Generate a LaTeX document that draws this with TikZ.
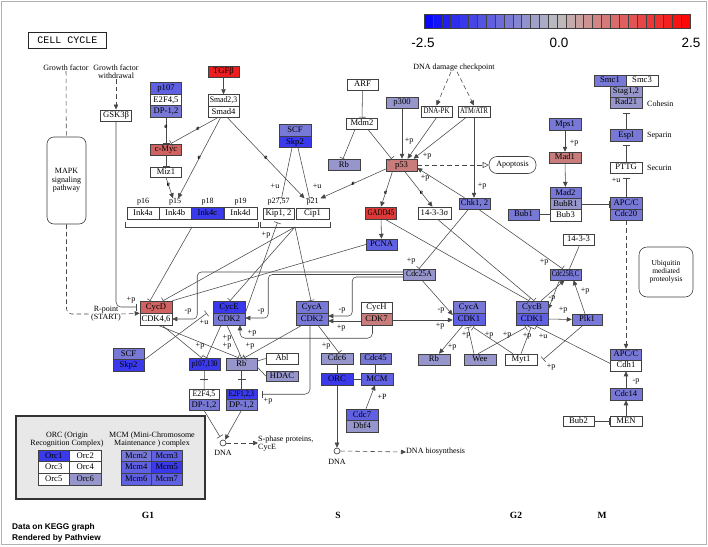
\documentclass[tikz,border=0pt]{standalone}
\usepackage{fontspec}
\setmainfont{Liberation Serif}
\setsansfont{Liberation Sans}
\setmonofont{Liberation Mono}
\usepackage{graphicx}
\usetikzlibrary{arrows.meta,calc}
\definecolor{midgray}{RGB}{190,190,190}
\definecolor{cBa}{RGB}{58,58,236}
\definecolor{cBb}{RGB}{96,96,226}
\definecolor{cBc}{RGB}{120,120,214}
\definecolor{cBd}{RGB}{150,150,204}
\definecolor{cRa}{RGB}{234,30,30}
\definecolor{cRb}{RGB}{222,58,58}
\definecolor{cRc}{RGB}{208,98,98}
\definecolor{cRd}{RGB}{200,124,124}
\newcommand{\sqz}[1]{\scalebox{0.8}[1]{#1}}
\newcommand{\sqy}[1]{\scalebox{0.9}[1]{#1}}
\begin{document}
\begin{tikzpicture}[x=1pt,y=-1pt,
 kb/.style={draw=black!75, line width=0.5pt, minimum width=31pt, minimum height=11.5pt, inner sep=0pt, font=\fontsize{8.6}{9}\selectfont, text height=5.9pt, text depth=1.4pt},
 tx/.style={inner sep=0pt, align=center, font=\fontsize{8}{8}\selectfont},
 sm/.style={inner sep=0pt, font=\fontsize{8}{8}\selectfont},
 el/.style={inner sep=0.3pt, font=\fontsize{7}{7}\selectfont\bfseries},
 ln/.style={draw=black!72, line width=0.55pt},
 act/.style={ln, -{Triangle[length=5pt,width=4.5pt]}},
 inh/.style={ln, -{Bar[width=7pt]}},
 dsh/.style={ln, dash pattern=on 4.5pt off 3pt},
 dact/.style={dsh, -{Triangle[length=5pt,width=4.5pt]}},
 rbox/.style={draw=black!75, line width=0.6pt, inner sep=0pt, align=center, font=\fontsize{8}{8.5}\selectfont},
 phase/.style={inner sep=0pt, font=\bfseries\fontsize{9.5}{10}\selectfont},
 dna/.style={circle, draw=black!80, line width=0.6pt, minimum size=6pt, inner sep=0pt, fill=white}
]
\useasboundingbox (0,0) rectangle (708,546);
\fill[white] (0,0) rectangle (708,546);
\draw[gray!60, line width=1.2pt] (1.5,1.5) rectangle (706.5,544.5);

% colour key
\foreach \i in {0,...,14}{
  \pgfmathtruncatemacro\pp{100*(14.5-\i)/15}
  \path[fill=blue!\pp!midgray, draw=black!75, line width=0.35pt] ({424+\i*266/30},14) rectangle ++({266/30},14);
}
\foreach \i in {15,...,29}{
  \pgfmathtruncatemacro\pp{100*(\i-14.5)/15}
  \path[fill=red!\pp!midgray, draw=black!75, line width=0.35pt] ({424+\i*266/30},14) rectangle ++({266/30},14);
}
\node[font=\sffamily\fontsize{13.5}{14}\selectfont, inner sep=0pt] (cbl) at (423,43) {-2.5};
\node[font=\sffamily\fontsize{13.5}{14}\selectfont, inner sep=0pt] (cbm) at (559,43) {0.0};
\node[font=\sffamily\fontsize{13.5}{14}\selectfont, inner sep=0pt] (cbh) at (691,43) {2.5};

% title and side texts
\node[draw=black!85, line width=1.5pt, minimum width=78pt, minimum height=16pt, inner sep=0pt, font=\ttfamily\fontsize{10}{10}\selectfont] (title) at (67.5,40.5) {CELL CYCLE};
\node[tx] (gf) at (66,68) {Growth factor};
\node[tx] (gfw) at (116,72) {Growth factor\\withdrawal};
\node[rbox, rounded corners=7pt, minimum width=39pt, minimum height=87pt] (mapk) at (66.5,180.5) {MAPK\\signaling\\pathway};
\node[tx, fill=white, inner sep=0.5pt] (rpt) at (106,314) {R-point\\(START)};
\node[kb] (gsk) at (116,115.5) {GSK3β};

% upper left
\node[kb, fill=cBb] (p107) at (166,88.25) {p107};
\node[kb] (e2f45a) at (166,99.75) {E2F4,5};
\node[kb, fill=cBc] (dpa) at (166,111.25) {DP-1,2};
\node[kb, fill=cRc] (cmyc) at (166,149.5) {c-Myc};
\node[kb, minimum height=10.5pt] (miz1) at (166,172) {Miz1};
\node[kb, fill=cRa] (tgfb) at (223.5,71.5) {TGFβ};
\node[kb] (smad23) at (223.5,100.25) {\sqy{Smad2,3}};
\node[kb] (smad4) at (223.5,111.75) {Smad4};
\node[kb, minimum width=32pt, fill=cBc] (scfu) at (295,130.25) {SCF};
\node[kb, minimum width=32pt, fill=cBa] (skp2u) at (295,141.75) {Skp2};

% p53 region
\node[kb] (arf) at (362.5,84.5) {ARF};
\node[kb] (mdm2) at (362,123.5) {Mdm2};
\node[kb, minimum width=32pt, fill=cBd] (rbu) at (344,164.75) {Rb};
\node[kb, minimum width=32pt, fill=cBd] (p300) at (402,102.5) {p300};
\node[kb] (dnapk) at (436.5,111.5) {\sqz{DNA-PK}};
\node[kb, minimum width=32pt] (atm) at (474,111.5) {\scalebox{0.76}[1]{ATM/ATR}};
\node[tx] (ddc) at (454,68) {DNA damage checkpoint};
\node[kb, minimum height=12pt, fill=cRd] (p53) at (401.5,165) {p53};
\node[rbox, rounded corners=8pt, minimum width=47pt, minimum height=17pt] (apop) at (512.5,165) {Apoptosis};

% cohesin region
\node[kb, minimum width=32pt, minimum height=11pt, fill=cBc] (smc1) at (610,80.5) {Smc1};
\node[kb, minimum width=32pt, minimum height=11pt] (smc3) at (642,80.5) {Smc3};
\node[kb, minimum width=32pt, minimum height=11pt, fill=cBd] (stag) at (626,91.5) {Stag1,2};
\node[kb, minimum width=32pt, minimum height=11pt, fill=cBd] (rad21) at (626,102.5) {Rad21};
\node[tx, anchor=west] (cohesin) at (647,104) {Cohesin};
\node[kb, minimum width=32pt, minimum height=12pt, fill=cBc] (espl) at (626,135) {Espl};
\node[tx, anchor=west] (separin) at (647,136) {Separin};
\node[kb, minimum width=32pt, minimum height=11pt] (pttg) at (626,167.5) {PTTG};
\node[tx, anchor=west] (securin) at (647,168) {Securin};
\node[kb, minimum width=32pt, minimum height=12pt, fill=cBc] (mps1) at (565,124) {Mps1};
\node[kb, minimum width=32pt, minimum height=11pt, fill=cRd] (mad1) at (565,157.5) {Mad1};
\node[kb, minimum height=11.25pt, fill=cBc] (mad2) at (565.5,192.75) {Mad2};
\node[kb, minimum height=11.25pt, fill=cBd] (bubr1) at (565.5,204) {BubR1};
\node[kb, minimum height=11.25pt] (bub3) at (565.5,215.25) {Bub3};
\node[kb, minimum height=11pt, fill=cBc] (bub1) at (523.5,214.5) {Bub1};
\node[kb, minimum width=32pt, fill=cBc] (apcc) at (626,203) {APC/C};
\node[kb, minimum width=32pt, fill=cBc] (cdc20) at (626,214.5) {Cdc20};
\node[rbox, rounded corners=8pt, minimum width=54pt, minimum height=50pt, font=\fontsize{7.5}{8}\selectfont] (ubq) at (666,272) {Ubiquitin\\mediated\\proteolysis};
\node[kb, minimum height=11pt] (f1433) at (578.5,239.5) {14-3-3};
\node[kb, minimum height=11pt, fill=cBc] (cdc25bc) at (565.5,274.5) {\scalebox{0.76}[1]{Cdc25B,C}};
\node[kb, minimum width=30pt, minimum height=11pt, fill=cBc] (plk1) at (587,319.5) {Plk1};
\node[kb, minimum width=32pt, minimum height=12pt, fill=cBc] (cycb) at (532,307) {CycB};
\node[kb, minimum width=32pt, minimum height=12pt, fill=cBb] (cdk1b) at (532,319) {CDK1};
\node[kb, minimum height=11pt, fill=cBc] (apcc2) at (626,354.5) {APC/C};
\node[kb, minimum height=11pt] (cdh1) at (626,365.5) {Cdh1};
\node[kb, minimum width=32pt, minimum height=12pt, fill=cBc] (cdc14) at (626,394) {Cdc14};
\node[kb, minimum width=32pt, minimum height=10.5pt] (men) at (626,421) {MEN};
\node[kb, minimum height=10.5pt] (bub2) at (578.5,421) {Bub2};

% inhibitor row
\node[kb, minimum width=32pt, minimum height=12pt] (ink4a) at (143,213) {Ink4a};
\node[kb, minimum width=32.5pt, minimum height=12pt] (ink4b) at (175.25,213) {Ink4b};
\node[kb, minimum width=32pt, minimum height=12pt, fill=cBa] (ink4c) at (207.5,213) {Ink4c};
\node[kb, minimum width=33pt, minimum height=12pt] (ink4d) at (240.5,213) {Ink4d};
\node[sm] (lp16) at (143,202) {p16};
\node[sm] (lp15) at (175,202) {p15};
\node[sm] (lp18) at (207.5,202) {p18};
\node[sm] (lp19) at (240.5,202) {p19};
\draw[ln] (125,221.5) -- (125,227) -- (258,227) -- (258,221.5);
\coordinate (inkbr) at (192,227);
\node[kb, minimum height=11.5pt] (kip) at (278.5,213.5) {Kip1, 2};
\node[kb, minimum width=33pt, minimum height=11.5pt] (cip) at (312.5,213.5) {Cip1};
\node[sm] (lp27) at (278.5,202) {p27,57};
\node[sm] (lp21) at (312.5,202) {p21};
\draw[ln] (260,221.5) -- (260,227) -- (330,227) -- (330,221.5);
\coordinate (kipbr) at (295,227);

\node[kb, minimum height=12pt, fill=cRb] (gadd) at (381,213) {\sqz{GADD45}};
\node[kb, minimum width=33pt, minimum height=12pt] (s1433) at (434.5,213) {14-3-3σ};
\node[kb, minimum height=11pt, fill=cBc] (chk) at (474.5,203.5) {Chk1, 2};
\node[kb, minimum height=11pt, fill=cBb] (pcna) at (381.5,244.5) {PCNA};
\node[kb, minimum width=32pt, minimum height=11pt, fill=cBd] (cdc25a) at (419,274.5) {\sqy{Cdc25A}};

% cyclin/CDK complexes
\node[kb, minimum width=32pt, minimum height=12pt, fill=cRc] (cycd) at (156,307) {CycD};
\node[kb, minimum width=32pt, minimum height=12pt] (cdk46) at (156,319) {CDK4,6};
\node[kb, minimum width=32pt, minimum height=12pt, fill=cBa] (cyce) at (229,307) {CycE};
\node[kb, minimum width=32pt, minimum height=12pt, fill=cBc] (cdk2e) at (229,319) {CDK2};
\node[kb, minimum width=32pt, minimum height=12pt, fill=cBc] (cyca) at (312,307) {CycA};
\node[kb, minimum width=32pt, minimum height=12pt, fill=cBc] (cdk2a) at (312,319) {CDK2};
\node[kb, minimum height=11pt] (cych) at (376.5,307.5) {CycH};
\node[kb, minimum height=12pt, fill=cRd] (cdk7) at (376.5,319) {CDK7};
\node[kb, minimum width=32pt, minimum height=12pt, fill=cBc] (cycag) at (469,307) {CycA};
\node[kb, minimum width=32pt, minimum height=12pt, fill=cBb] (cdk1a) at (469,319) {CDK1};
\node[kb, fill=cBc] (scfl) at (128.5,353.75) {SCF};
\node[kb, fill=cBa] (skp2l) at (128.5,365.25) {Skp2};
\node[kb, minimum height=12pt, fill=cBa] (p107130) at (204.5,364) {\sqz{p107,130}};
\node[kb, minimum height=12pt, fill=cBd] (rbl) at (241.5,364) {Rb};
\node[kb, minimum width=32pt, minimum height=11pt] (abl) at (282,358.5) {Abl};
\node[kb, minimum width=32pt, minimum height=10.5pt, fill=cBd] (hdac) at (282,376) {HDAC};
\node[kb, minimum width=30pt, minimum height=10.5pt] (e2f45b) at (204,394.25) {\sqy{E2F4,5}};
\node[kb, minimum width=30pt, minimum height=10.5pt, fill=cBc] (dpb) at (204,404.75) {DP-1,2};
\node[kb, minimum height=10.5pt, fill=cBa] (e2f123) at (241.5,394.25) {\sqz{E2F1,2,3}};
\node[kb, minimum height=10.5pt, fill=cBc] (dpc) at (241.5,404.75) {DP-1,2};
\node[dna] (dnal) at (223,443) {};
\node[sm] (dnalt) at (223,453) {DNA};
\node[tx, anchor=west, align=left] (sphase) at (258,444) {S-phase proteins,\\CycE};
\node[kb, minimum width=32pt, minimum height=11pt, fill=cBd] (cdc6) at (337,358.5) {Cdc6};
\node[kb, minimum width=32pt, minimum height=12pt, fill=cBa] (orc) at (337,379) {ORC};
\node[kb, minimum height=11pt, fill=cBc] (cdc45) at (375.5,358.5) {Cdc45};
\node[kb, minimum width=32pt, minimum height=12pt, fill=cBb] (mcm) at (377,379) {MCM};
\node[kb, minimum width=32pt, fill=cBb] (cdc7) at (362,414.75) {Cdc7};
\node[kb, minimum width=32pt, fill=cBd] (dbf4) at (362,426.25) {Dbf4};
\node[dna] (dnam) at (337,451) {};
\node[sm] (dnamt) at (337,461.5) {DNA};
\node[tx, anchor=west] (dnabio) at (406,452) {DNA biosynthesis};
\node[kb, minimum width=32pt, minimum height=11pt, fill=cBd] (rbg) at (434,359.5) {Rb};
\node[kb, minimum width=32pt, minimum height=11pt, fill=cBd] (wee) at (480,359.5) {Wee};
\node[kb, minimum width=32pt, minimum height=11pt] (myt1) at (521,359.5) {Myt1};

% legend
\node[draw=black!80, fill=black!9, line width=1.5pt, minimum width=189pt, minimum height=83pt, inner sep=0pt] (legend) at (110.5,457.5) {};
\node[tx, font=\fontsize{8}{7.7}\selectfont] (orct) at (67,439.5) {ORC (Origin\\Recognition Complex)};
\node[tx, font=\fontsize{8}{7.7}\selectfont] (mcmt) at (152,439.5) {MCM (Mini-Chromosome\\Maintenance ) complex};
\node[kb, minimum width=31.5pt, minimum height=11.67pt, fill=cBa] (orc1) at (53.75,455.83) {Orc1};
\node[kb, minimum width=31.5pt, minimum height=11.67pt, fill=white] (orc2) at (85.25,455.83) {Orc2};
\node[kb, minimum width=31.5pt, minimum height=11.67pt, fill=white] (orc3) at (53.75,467.5) {Orc3};
\node[kb, minimum width=31.5pt, minimum height=11.67pt, fill=white] (orc4) at (85.25,467.5) {Orc4};
\node[kb, minimum width=31.5pt, minimum height=11.67pt, fill=white] (orc5) at (53.75,479.17) {Orc5};
\node[kb, minimum width=31.5pt, minimum height=11.67pt, fill=cBd] (orc6) at (85.25,479.17) {Orc6};
\node[kb, minimum width=30.5pt, minimum height=11.67pt, fill=cBc] (mcm2) at (136.25,455.83) {Mcm2};
\node[kb, minimum width=30.5pt, minimum height=11.67pt, fill=cBb] (mcm3) at (166.75,455.83) {Mcm3};
\node[kb, minimum width=30.5pt, minimum height=11.67pt, fill=cBb] (mcm4) at (136.25,467.5) {Mcm4};
\node[kb, minimum width=30.5pt, minimum height=11.67pt, fill=cBa] (mcm5) at (166.75,467.5) {Mcm5};
\node[kb, minimum width=30.5pt, minimum height=11.67pt, fill=cBb] (mcm6) at (136.25,479.17) {Mcm6};
\node[kb, minimum width=30.5pt, minimum height=11.67pt, fill=cBb] (mcm7) at (166.75,479.17) {Mcm7};

% phases and footer
\node[phase] (ph1) at (148,515) {G1};
\node[phase] (ph2) at (338,515) {S};
\node[phase] (ph3) at (516,515) {G2};
\node[phase] (ph4) at (602,515) {M};
\node[anchor=west, inner sep=0pt, font=\sffamily\bfseries\fontsize{8.3}{9}\selectfont] (ft1) at (12,527) {Data on KEGG graph};
\node[anchor=west, inner sep=0pt, font=\sffamily\bfseries\fontsize{8.3}{9}\selectfont] (ft2) at (12,538) {Rendered by Pathview};

% ---------------- connectors ----------------
\draw[dsh] (gf) -- (mapk);
\draw[dsh, rounded corners=5pt] (mapk.south) |- (rpt.west);
\draw[dact] (rpt.east) -- (cycd.south west);
\draw[dact] (gfw) -- (gsk);
\draw[inh, rounded corners=5pt] (gsk.south) |- ([xshift=-3pt]cycd.west);
\node[sm] (l1) at (131,300) {+p};

\draw[act] (tgfb) -- (smad23);
\draw[inh] (dpa.south) -- node[el, pos=0.35] (e1) {e} (cmyc.north);
\draw[inh] ([xshift=-6pt]smad4.south) -- node[el, pos=0.42] (e2) {e} ([xshift=5pt]cmyc.north);
\draw[inh] (cmyc) -- (miz1);
\draw[act] (miz1.south) -- node[el, pos=0.35] (e3) {e} ([xshift=-2pt]lp15.north);
\draw[act] ([xshift=-3pt]smad4.south) -- node[el, pos=0.5] (e4) {e} ([xshift=3pt]lp15.north);
\draw[act] ([xshift=4pt]smad4.south) -- node[el, pos=0.5] (e5) {e} ([xshift=-8pt]lp21.north);
\draw[inh] ([xshift=-3pt]skp2u.south) -- ([xshift=3pt]lp27.north);
\draw[inh] ([xshift=3pt]skp2u.south) -- ([xshift=-3pt]lp21.north);
\node[sm] (l2) at (275,186) {+u};
\node[sm] (l3) at (317,186) {+u};

\draw[inh] (arf) -- (mdm2);
\draw[inh] ([xshift=-7pt]mdm2.south) -- ([xshift=-1pt]rbu.north);
\draw[inh] ([xshift=6pt]mdm2.south) -- ([xshift=-10pt]p53.north);
\draw[act] (p300.south) -- (p300.south |- p53.north);
\draw[act] (dnapk.south) -- ([xshift=6pt]p53.north);
\draw[act] ([xshift=-8pt]atm.south) -- ([xshift=12pt]p53.north);
\draw[act] (atm.south) -- (atm.south |- chk.north);
\draw[act] ([xshift=-10pt]chk.north) -- ([yshift=-3pt]p53.east);
\node[sm] (l4) at (409,141) {+p};
\node[sm] (l5) at (427,156) {+p};
\node[sm] (l6) at (482,186) {+p};
\node[sm] (l7) at (425,178) {+p};
\draw[dact] ([xshift=-3pt]ddc.south) -- (dnapk.north);
\draw[dact] ([xshift=3pt]ddc.south) -- (atm.north);
\draw[dsh, -{Triangle[open, length=6pt, width=6pt]}] (p53.east) -- (apop.west);
\draw[act] ([xshift=-9pt]p53.south) -- node[el, pos=0.6] (e6) {e} (gadd.north);
\draw[act] ([xshift=3pt]p53.south) -- node[el, pos=0.6] (e7) {e} ([xshift=-2pt]s1433.north);
\draw[act] ([yshift=-4pt]p53.west) -- node[el, pos=0.5] (e8) {e} ([xshift=8pt]lp21.north);

% checkpoint kinases and phosphatases
\draw[inh] ([xshift=-6pt]chk.south) -- (cdc25a.north);
\node[sm] (l8) at (411,261) {+p};
\draw[inh] ([xshift=4pt]chk.south) -- ([xshift=-3pt]cdc25bc.north);
\node[sm] (l9) at (544,262) {+p};
\draw[ln] ([xshift=1pt]f1433.south) -- ([xshift=4pt]cdc25bc.north);
\draw[act] (gadd) -- (pcna);
\draw[inh] ([xshift=4pt]gadd.south) -- ([xshift=-3pt]cycb.north);
\draw[inh] ([xshift=3pt]s1433.south) -- ([xshift=2pt]cycb.north);
\draw[act] ([xshift=-6pt]cdc25bc.south) -- ([yshift=4pt]cycb.south east);
\draw[act] ([xshift=9pt]cycb.north) -- ([xshift=-1pt]cdc25bc.south);
\node[sm] (l10) at (552,298) {-p};
\draw[act] (cdk1b.east) -- (plk1.west);
\node[sm] (l11) at (563,310) {+p};
\draw[act] ([xshift=-2pt]plk1.north) -- ([xshift=8pt]cdc25bc.south);
\node[sm] (l12) at (585,291) {+p};
\draw[inh] ([xshift=-4pt]plk1.south) -- ([xshift=6pt]myt1.east);
\node[sm] (l13) at (551,367) {+p};
\draw[inh] ([yshift=2pt]cdh1.west) -- ([xshift=4pt,yshift=-1pt]cdk1b.south);
\node[sm] (l14) at (543,336) {+u};

% spindle checkpoint / cohesin
\draw[act] (mps1) -- (mad1);
\node[sm] (l15) at (574,143) {+p};
\draw[act] (mad1) -- (mad2);
\draw[inh] (bubr1.east) -- (bubr1.east -| apcc.west);
\draw[ln] (bub1.east) -- (bub3.west |- bub1.east);
\draw[inh] (espl.north) -- ([yshift=-4.5pt]rad21.south);
\draw[inh] (pttg.north) -- ([yshift=-4pt]espl.south);
\draw[inh] (apcc.north) -- ([yshift=-5pt]pttg.south);
\node[sm] (l16) at (616,180) {+u};
\draw[dact] (cdc20.south) -- (apcc2.north);
\draw[act] (cdc14) -- (cdh1);
\node[sm] (l17) at (636,381) {-p};
\draw[act] (men) -- (cdc14);
\draw[inh] (bub2) -- (men);

% inhibitors to cyclin/CDK
\draw[inh] (inkbr) -- ([xshift=-6pt]cycd.north);
\draw[inh] (kipbr) -- ([xshift=7pt]cycd.north);
\draw[inh] (kipbr) -- ([xshift=1pt]cyce.north);
\draw[inh] (kipbr) -- ([xshift=-1pt]cyca.north);
\draw[inh] (cyce.south east) -- ([xshift=-1pt,yshift=-3pt]kip.south);
\node[sm] (l18) at (266,235) {+p};
\draw[ln] (pcna.west) -- (cycd.north east);

% Cdc25A activations
\draw[act, rounded corners=4pt] ([yshift=2.5pt]cdc25a.west) -| ([xshift=25pt]cdk46.east) -- (cdk46.east);
\draw[act, rounded corners=4pt] (cdc25a.west) -| ([xshift=23pt,yshift=1pt]cdk2e.east) -- ([yshift=1pt]cdk2e.east);
\draw[act, rounded corners=4pt] ([yshift=-2.5pt]cdc25a.west) -| ([xshift=24pt,yshift=3pt]cdk2a.east) -- ([yshift=3pt]cdk2a.east);
\node[sm] (l19) at (188,311) {-p};
\node[sm] (l20) at (261,311) {-p};
\node[sm] (l21) at (342,310) {-p};
\draw[act] ([yshift=-2pt]cdk7.west) -- ([yshift=-2pt]cdk2a.east);
\node[sm] (l22) at (341,328) {+p};
\draw[act, rounded corners=5pt] ([xshift=-4pt]cdk7.south) |- ([xshift=11pt,yshift=-13pt]cdk2e.south) -- ([xshift=11pt]cdk2e.south);
\node[sm] (l23) at (252,333) {+p};
\draw[act] ([xshift=3pt]cdc25a.south) -- ([yshift=4pt]cdk1a.west);
\node[sm] (l24) at (441,310) {-p};
\draw[act] ([yshift=-1pt]cdk7.east) -- ([yshift=-1pt]cdk1a.west);
\node[sm] (l25) at (440,326) {+p};
\draw[act] ([xshift=-6pt]cdk1a.south) -- ([xshift=5pt]rbg.north);
\node[sm] (l26) at (452,347) {+p};
\draw[inh] ([xshift=-6pt]wee.north) -- ([xshift=-1pt,yshift=-2pt]cdk1a.south);
\draw[inh] ([xshift=-2pt]wee.north) -- ([xshift=-6pt,yshift=-2pt]cdk1b.south);
\draw[inh] ([xshift=-8pt]myt1.north) -- ([xshift=4pt,yshift=-2pt]cdk1a.south);
\draw[inh] (myt1.north) -- ([xshift=-1pt,yshift=-2pt]cdk1b.south);
\node[sm] (l27) at (466,335) {+p};
\node[sm] (l28) at (489,335) {+p};
\node[sm] (l29) at (507,335) {+p};
\node[sm] (l30) at (527,336) {+p};

% SCF and pocket proteins
\draw[inh] (scfl.south east) -- ([xshift=-6pt]cyce.south west);
\node[sm] (l31) at (204,322) {+u};
\draw[inh] ([xshift=6pt]cdk46.south) -- ([xshift=-3pt]p107130.north);
\draw[inh] ([xshift=2pt]cdk46.south) -- ([xshift=-3pt]rbl.north);
\draw[inh] ([xshift=-8pt]cdk2e.south) -- ([xshift=2pt]p107130.north);
\draw[inh] ([xshift=-2pt]cdk2e.south) -- (rbl.north);
\draw[inh] ([xshift=-10pt]cdk2a.south) -- ([xshift=3pt]rbl.north);
\node[sm] (l32) at (200,346) {+p};
\node[sm] (l33) at (227,338) {+p};
\node[sm] (l34) at (227,346) {+p};
\node[sm] (l35) at (250,346) {+p};
\draw[inh] ([xshift=6pt]cdk2a.south) -- ([xshift=2pt]cdc6.north);
\node[sm] (l36) at (326,346) {+p};
\draw[inh, rounded corners=5pt] ([xshift=-2pt]cdk2a.south) |- ([xshift=5pt]e2f123.east);
\node[sm] (l37) at (268,401) {+p};
\draw[ln] (p107130) -- (e2f45b);
\draw[ln] ($(p107130.south)!0.5!(e2f45b.north)+(-4,0)$) -- ++(8,0);
\draw[ln] (rbl) -- (e2f123);
\draw[ln] ($(rbl.south)!0.5!(e2f123.north)+(-4,0)$) -- ++(8,0);
\draw[ln] ([yshift=3pt]rbl.east) -- (abl.west);
\draw[ln] ([yshift=-3pt]rbl.east) -- (hdac.west);
\draw[inh] (dpb.south) -- ([xshift=-3pt,yshift=3pt]dnal.north);
\draw[act] (dpc.south) -- ([xshift=2pt]dnal.north);
\draw[dact] (dnal.east) -- ([yshift=1pt]sphase.west);

% replication
\draw[ln] (cdc6) -- (orc);
\draw[ln] (orc.east) -- (mcm.west);
\draw[ln] (cdc45.south) -- (cdc45.south |- mcm.north);
\draw[act] (orc.south) -- (dnam.north);
\draw[act] ([xshift=4pt]cdc7.north) -- ([xshift=-2pt]mcm.south);
\node[sm] (l38) at (382,397) {+P};
\draw[dact] (dnam.east) -- (dnabio.west);
\end{tikzpicture}
\end{document}
